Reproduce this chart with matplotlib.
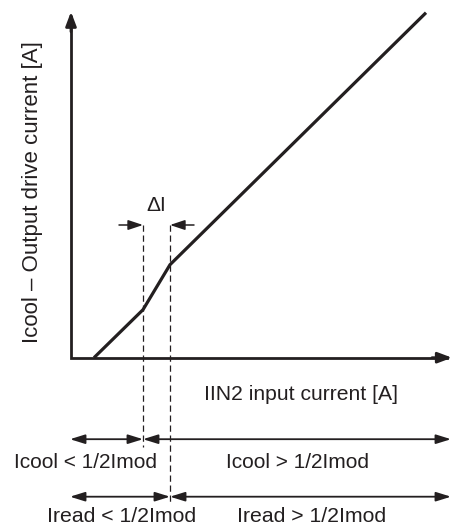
import matplotlib
matplotlib.use('Agg')
import matplotlib.pyplot as plt

# transfer curve (arbitrary units, origin at the axis corner)
input_current = [0.23, 0.72, 0.99, 3.55]
output_current = [0.0, 0.48, 0.93, 3.45]

# switching thresholds on the input axis
icool_threshold = 0.72
iread_threshold = 0.99

x_axis_end = 3.81
y_axis_end = 3.46

region_labels_row1 = ['Icool < 1/2Imod', 'Icool > 1/2Imod']
region_labels_row2 = ['Iread < 1/2Imod', 'Iread > 1/2Imod']

ink = '#231f20'
plt.rcParams['font.family'] = ['Liberation Sans', 'DejaVu Sans']

fig = plt.figure(figsize=(4.5, 5.29), dpi=100)
ax = fig.add_axes([0, 0, 1, 1])
ax.set_xlim(-0.71, 3.79)
ax.set_ylim(-1.713, 3.577)
ax.set_axis_off()


def arrow(x0, y0, x1, y1, style, lw, hl, hw):
    ax.annotate('', xy=(x1, y1), xytext=(x0, y0),
                arrowprops=dict(arrowstyle=f'{style},head_length={hl},head_width={hw}',
                                color=ink, lw=lw, shrinkA=0, shrinkB=0,
                                mutation_scale=10),
                annotation_clip=False)


# axes with arrowheads
ax.plot([0, 0, x_axis_end - 0.05], [y_axis_end - 0.05, 0, 0], color=ink, lw=2.0,
        solid_joinstyle='miter', clip_on=False)
arrow(0, y_axis_end - 0.2, 0, y_axis_end, '-|>', 2.0, 0.85, 0.32)
arrow(x_axis_end - 0.2, 0, x_axis_end, 0, '-|>', 2.0, 0.85, 0.32)

# curve
ax.plot(input_current, output_current, color=ink, lw=2.3,
        solid_joinstyle='miter', solid_capstyle='butt')

# dashed guide lines
ax.plot([icool_threshold, icool_threshold], [1.33, -0.89], color=ink, lw=0.9,
        dashes=(5, 3))
ax.plot([iread_threshold, iread_threshold], [1.33, -1.44], color=ink, lw=0.9,
        dashes=(5, 3))

# delta I marker
arrow(icool_threshold - 0.24, 1.327, icool_threshold, 1.327, '-|>', 1.1, 0.9, 0.3)
arrow(iread_threshold + 0.24, 1.327, iread_threshold, 1.327, '-|>', 1.1, 0.9, 0.3)
ax.text((icool_threshold + iread_threshold) / 2, 1.52, '\u0394I', ha='center',
        va='center', fontsize=15, color=ink)

# region arrows
row1_y, row2_y = -0.815, -1.39
arrow(-0.01, row1_y, icool_threshold, row1_y, '<|-|>', 1.3, 0.9, 0.28)
arrow(icool_threshold, row1_y, 3.80, row1_y, '<|-|>', 1.3, 0.9, 0.28)
arrow(-0.01, row2_y, iread_threshold, row2_y, '<|-|>', 1.3, 0.9, 0.28)
arrow(iread_threshold, row2_y, 3.80, row2_y, '<|-|>', 1.3, 0.9, 0.28)

ax.text(0.14, -1.043, region_labels_row1[0], ha='center', va='center', fontsize=15, color=ink)
ax.text(2.26, -1.043, region_labels_row1[1], ha='center', va='center', fontsize=15, color=ink)
ax.text(0.51, -1.593, region_labels_row2[0], ha='center', va='center', fontsize=15.3, color=ink)
ax.text(2.41, -1.593, region_labels_row2[1], ha='center', va='center', fontsize=15.3, color=ink)

# axis titles
ax.text(2.30, -0.373, 'IIN2 input current [A]', ha='center', va='center',
        fontsize=15.2, color=ink)
ax.text(-0.38, 1.657, 'Icool \u2013 Output drive current [A]', ha='center', va='center',
        rotation=90, fontsize=16, color=ink)

fig.savefig('out.png', dpi=100)
